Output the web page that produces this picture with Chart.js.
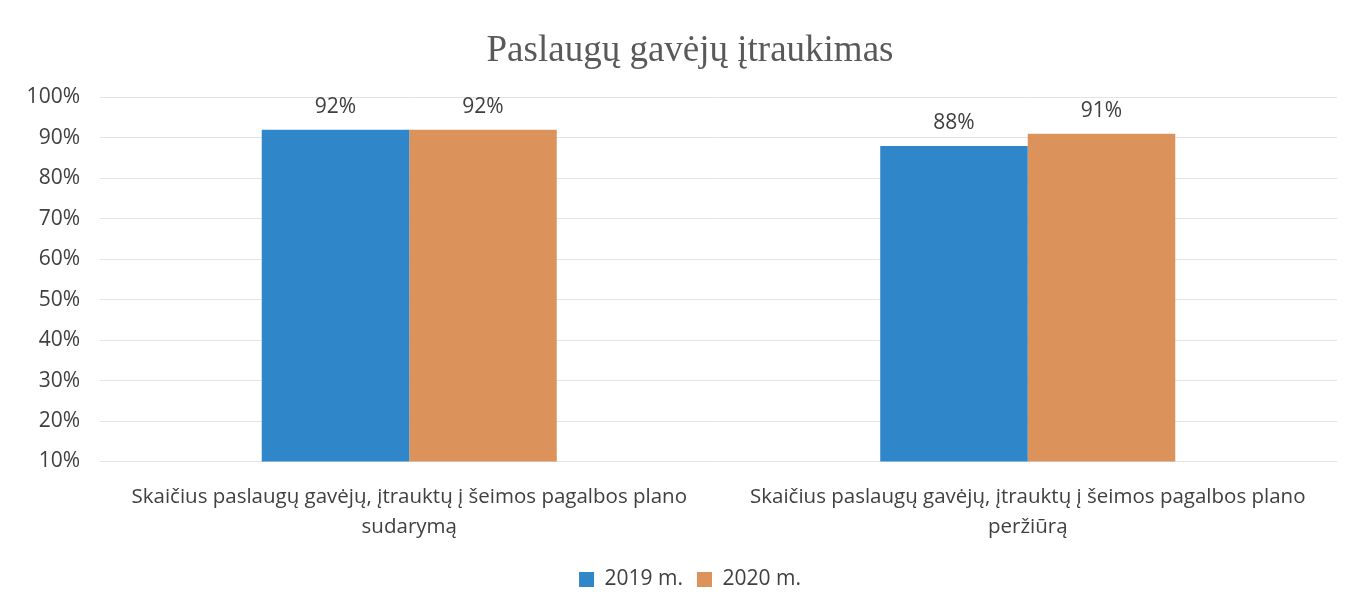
<!DOCTYPE html>
<html lang="lt">
<head>
    <meta charset="UTF-8">
    <title>Paslaugų gavėjų įtraukimas</title>
    <script src="https://cdn.jsdelivr.net/npm/chart.js"></script>
    <style>
        body {
            margin: 0;
            padding: 0;
            background: #ffffff;
        }
        .wrap {
            width: 1357px;
            height: 612px;
        }
    </style>
</head>
<body>
    <div class="wrap">
        <canvas id="chart"></canvas>
    </div>

    <script>
        const categories = [
            ['Skaičius paslaugų gavėjų, įtrauktų į šeimos pagalbos plano', 'sudarymą'],
            ['Skaičius paslaugų gavėjų, įtrauktų į šeimos pagalbos plano', 'peržiūrą']
        ];
        const seriesNames = ['2019 m.', '2020 m.'];
        const values2019 = [92, 88];
        const values2020 = [92, 91];
        const yTicks = [10, 20, 30, 40, 50, 60, 70, 80, 90, 100];

        const sansFont = "'Open Sans', sans-serif";

        // draws the % label above each bar
        const barLabels = {
            id: 'barLabels',
            afterDatasetsDraw(chart) {
                const ctx = chart.ctx;
                ctx.save();
                ctx.font = "21px " + sansFont;
                ctx.fillStyle = '#404040';
                ctx.textAlign = 'center';
                ctx.textBaseline = 'middle';
                chart.data.datasets.forEach((ds, i) => {
                    chart.getDatasetMeta(i).data.forEach((bar, j) => {
                        ctx.fillText(ds.data[j] + '%', bar.x, bar.y - 23);
                    });
                });
                ctx.restore();
            }
        };

        // y labels hang into the left padding (so title/legend stay centred like the original);
        // widen the label clip box so they are not cut off
        const widenYAxis = {
            id: 'widenYAxis',
            afterLayout(chart) {
                chart.scales.y.left = 0;
            }
        };

        const chart = new Chart(document.getElementById('chart'), {
            type: 'bar',
            data: {
                labels: categories,
                datasets: [{
                    label: seriesNames[0],
                    data: values2019,
                    backgroundColor: '#2f87c9',
                    categoryPercentage: 0.477,
                    barPercentage: 1.0
                }, {
                    label: seriesNames[1],
                    data: values2020,
                    backgroundColor: '#dc925b',
                    categoryPercentage: 0.477,
                    barPercentage: 1.0
                }]
            },
            options: {
                responsive: true,
                maintainAspectRatio: false,
                animation: false,
                layout: {
                    padding: { left: 43, right: 20, top: 20, bottom: 12 }
                },
                plugins: {
                    title: {
                        display: true,
                        text: 'Paslaugų gavėjų įtraukimas',
                        color: '#595959',
                        font: { family: "'Liberation Serif', serif", size: 37, weight: 'normal' },
                        padding: { top: 9, bottom: 24 }
                    },
                    legend: {
                        position: 'bottom',
                        labels: {
                            color: '#404040',
                            font: { family: sansFont, size: 21 },
                            boxWidth: 15,
                            boxHeight: 15,
                            padding: 14
                        }
                    },
                    tooltip: { enabled: false }
                },
                scales: {
                    x: {
                        grid: { display: false },
                        border: { display: false },
                        ticks: {
                            color: '#404040',
                            font: { family: sansFont, size: 20.5, lineHeight: 1.5 },
                            maxRotation: 0,
                            padding: 12
                        }
                    },
                    y: {
                        min: 10,
                        max: 100,
                        afterBuildTicks: axis => {
                            axis.ticks = yTicks.map(v => ({ value: v }));
                        },
                        afterFit: axis => { axis.width = 57; },
                        grid: { color: '#e3e3e3', drawTicks: false },
                        border: { display: false },
                        ticks: {
                            color: '#404040',
                            font: { family: sansFont, size: 21 },
                            padding: 20,
                            callback: v => v + '%'
                        }
                    }
                }
            },
            plugins: [barLabels, widenYAxis]
        });
    </script>
</body>
</html>
